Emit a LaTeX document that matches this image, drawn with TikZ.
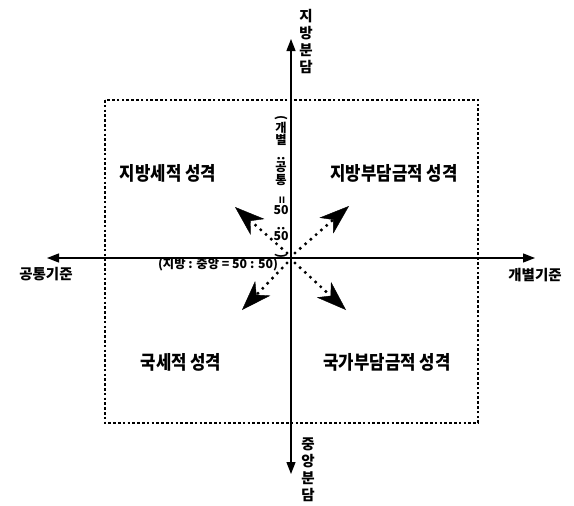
\documentclass[tikz,border=0pt]{standalone}
\usepackage{fontspec}
\usepackage{graphicx}
\newfontfamily\kfont{Noto Sans CJK KR}[FakeStretch=0.88, BoldFont={Noto Sans CJK KR Black}]
\newfontfamily\kwide{Noto Sans CJK KR}[BoldFont={Noto Sans CJK KR Black}]
\usetikzlibrary{arrows.meta, positioning}
\tikzset{
  axisline/.style ={line width=1.3pt, {Triangle[length=12pt, width=9pt]}-{Triangle[length=12pt, width=9pt]}},
  frameline/.style={line width=2.6pt, dash pattern=on 2.6pt off 2.2pt},
  dotarrow/.style ={line width=3.4pt, line cap=round, dash pattern=on 0pt off 7pt,
                    -{Stealth[length=30pt, width=21pt, inset=9pt, line width=0.4pt]}},
  quad/.style     ={font=\kfont\bfseries\fontsize{19}{21}\selectfont, inner sep=0pt},
  axlabel/.style  ={font=\kwide\bfseries\fontsize{14.5}{17}\selectfont, inner sep=0pt, align=center},
  ratio/.style    ={font=\kwide\bfseries\fontsize{12.3}{12.3}\selectfont, inner sep=0pt, align=center},
}
\newcommand{\rotp}[1]{\rotatebox{-90}{#1}}

\begin{document}
\begin{tikzpicture}[x=1pt, y=-1pt]
    \useasboundingbox (0,0) rectangle (574,506);
    % frame and axes
    \coordinate (fnw) at (105,100);
    \coordinate (fse) at (478,423);
    \draw[frameline] (fnw) rectangle (fse);
    \coordinate (o) at (291,258);
    \coordinate (ntip) at (291,39);
    \coordinate (stip) at (291,474);
    \coordinate (wtip) at (47,258);
    \coordinate (etip) at (535,258);
    \draw[axisline] (ntip) -- (stip);
    \draw[axisline] (wtip) -- (etip);
    % axis labels
    \node[axlabel] (north) at (306,42) {지\\방\\분\\담};
    \node[axlabel] (south) at (308,470) {중\\앙\\분\\담};
    \node[axlabel] (west) at (46,274) {공통기준};
    \node[axlabel] (east) at (535,275) {개별기준};
    % quadrants
    \node[quad] (q2) at (168,173) {지방세적 성격};
    \node[quad] (q1) at (394,173) {지방부담금적 성격};
    \node[quad] (q3) at (181,362) {국세적 성격};
    \node[quad] (q4) at (387,362) {국가부담금적 성격};
    % ratios
    \node[ratio] (hratio) at (218,265) {(지방 : 중앙 = 50 : 50)};
    \node[ratio] (vratio) at (281,187) {\rotp{(}\\개\\별\\\rotp{:}\\공\\통\\\rotp{=}\\50\\\rotp{:}\\50\\\rotp{)}};
    % dotted arrows from the centre
    \coordinate (ulfrom) at (287,253);
    \coordinate (urfrom) at (295,253);
    \coordinate (llfrom) at (287,263);
    \coordinate (lrfrom) at (295,263);
    \coordinate (ul) at (235,207);
    \coordinate (ur) at (349,206);
    \coordinate (ll) at (242,310);
    \coordinate (lr) at (346,310);
    \draw[dotarrow] (ulfrom) -- (ul);
    \draw[dotarrow] (urfrom) -- (ur);
    \draw[dotarrow] (llfrom) -- (ll);
    \draw[dotarrow] (lrfrom) -- (lr);
\end{tikzpicture}
\end{document}
